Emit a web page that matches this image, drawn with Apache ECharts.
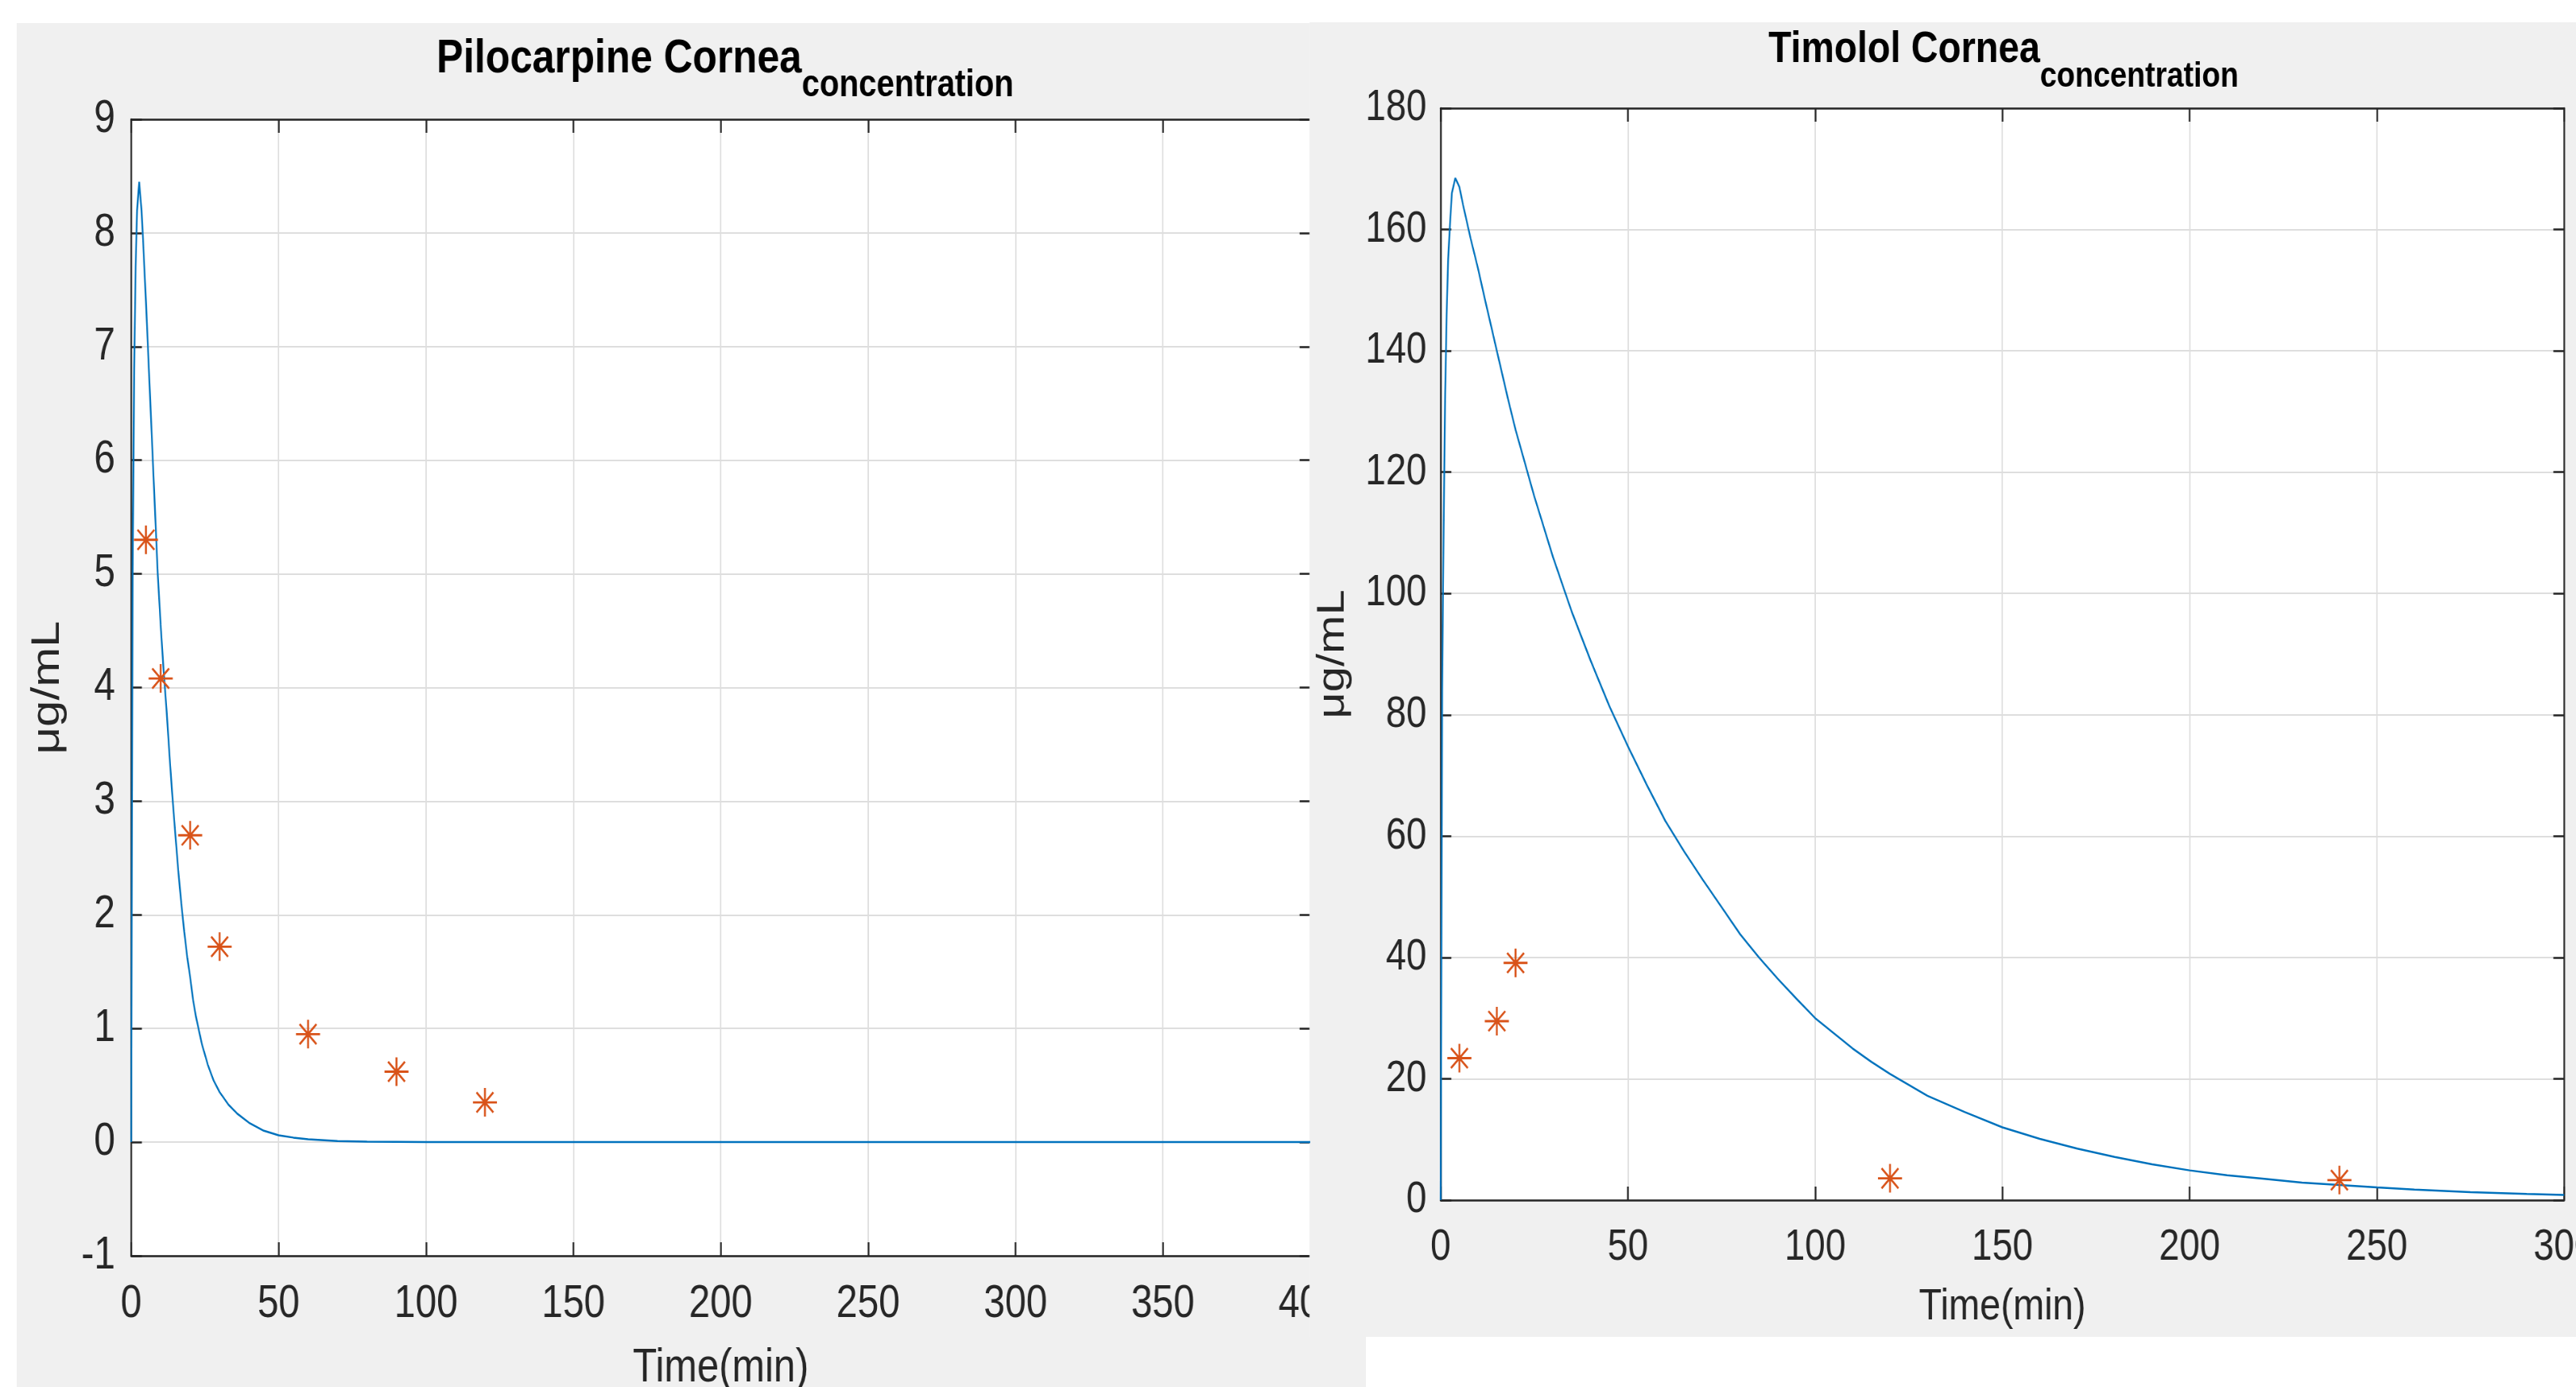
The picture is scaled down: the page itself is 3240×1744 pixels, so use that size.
<!DOCTYPE html>
<html>
<head>
<meta charset="utf-8">
<title>Cornea concentration</title>
<script src="https://cdn.jsdelivr.net/npm/echarts@6/dist/echarts.min.js"></script>
<style>
    html, body { margin: 0; padding: 0; background: #fff; overflow: hidden; }
    /* figure background of the left screenshot */
    #panelLeft { position: absolute; left: 21px; top: 29px; width: 1697px; height: 1715px; background: #f0f0f0; }
    /* the screenshot is squeezed horizontally, so draw wide and squeeze */
    #chart { position: absolute; left: 0; top: 0; width: 3858px; height: 1744px; transform: scaleX(0.84); transform-origin: 0 0; }
</style>
</head>
<body>
<div id="panelLeft"></div>
<div id="chart"></div>
<script>
// prettier-ignore
const SQ = 0.84;
const fx = v => v / SQ; // screenshot x -> chart x

const INK = '#262626', GRIDC = '#dedede', BLUE = '#0072BD', ORANGE = '#D95319';
const FONT = 'Liberation Sans, Arial, Helvetica, sans-serif';
const STAR = 'path://M50,0V100M0,50H100M15,15L85,85M15,85L85,15';

// Pilocarpine cornea (model curve + measured points)
let piloTime = [0, 0.5, 1, 1.5, 2, 2.7, 3.5, 4, 5, 6, 7, 8, 9, 10, 11, 12, 13, 14, 15, 16, 17, 18, 19, 20,
    21, 22, 24, 26, 28, 30, 33, 36, 40, 45, 50, 55, 60, 70, 80, 100, 150, 200, 250, 300, 350, 400];
let piloConc = [0, 5.0, 6.8, 7.7, 8.2, 8.45, 8.2, 7.95, 7.4, 6.8, 6.2, 5.6, 5.0, 4.55, 4.15, 3.8, 3.4, 3.03, 2.7, 2.38, 2.1, 1.85, 1.63, 1.45,
    1.25, 1.1, 0.86, 0.68, 0.54, 0.44, 0.33, 0.25, 0.17, 0.1, 0.06, 0.04, 0.025, 0.01, 0.005, 0, 0, 0, 0, 0, 0, 0];
let piloObsTime = [5, 10, 20, 30, 60, 90, 120];
let piloObsConc = [5.3, 4.08, 2.7, 1.72, 0.95, 0.62, 0.35];
let piloXRange = [0, 400, 50];   // min, max, step
let piloYRange = [-1, 9, 1];

// Timolol cornea
let timoTime = [0, 0.4, 0.8, 1.2, 1.6, 2, 2.5, 3, 3.9, 5, 6, 8, 10, 12, 15, 18, 20, 25, 30, 35, 40, 45, 50,
    55, 60, 65, 70, 75, 80, 85, 90, 95, 100, 105, 110, 115, 120, 125, 130, 140, 150, 160, 170, 180, 190,
    200, 210, 220, 230, 240, 250, 260, 275, 290, 300];
let timoConc = [0, 84, 111, 133, 146, 155, 161, 166, 168.5, 167, 164, 158.5, 153.5, 148, 140, 132, 127, 116, 106, 97, 89, 81.5, 74.8,
    68.5, 62.5, 57.5, 52.8, 48.3, 43.8, 40, 36.5, 33.2, 30, 27.5, 25, 22.8, 20.8, 19, 17.2, 14.5, 12, 10.1, 8.5, 7.1, 5.9,
    4.9, 4.1, 3.5, 2.9, 2.5, 2.1, 1.75, 1.3, 1.0, 0.85];
let timoObsTime = [5, 15, 20, 120, 240];
let timoObsConc = [23.4, 29.5, 39.1, 3.6, 3.3];
let timoXRange = [0, 300, 50];
let timoYRange = [0, 180, 20];

const pairs = (xs, ys) => xs.map((x, i) => [x, ys[i]]);

function mainAxis(gridIndex, position, range, z, fontSize, margin, tickLen, name, nameSize, nameGap) {
    return {
        type: 'value', gridIndex, position, z,
        min: range[0], max: range[1], interval: range[2],
        axisLine: { show: true, onZero: false, lineStyle: { color: INK, width: 2.5 } },
        axisTick: { show: true, inside: true, length: tickLen, lineStyle: { color: INK, width: 2.5 } },
        axisLabel: { show: true, color: INK, fontSize, margin, fontFamily: FONT, showMinLabel: true, showMaxLabel: true },
        splitLine: { show: true, lineStyle: { color: GRIDC, width: 2 } },
        name, nameLocation: 'middle', nameGap, nameMoveOverlap: false,
        nameTextStyle: { color: INK, fontSize: nameSize, fontFamily: FONT }
    };
}
// top / right edge of the box, ticks only
function mirrorAxis(gridIndex, position, range, z, tickLen) {
    return {
        type: 'value', gridIndex, position, z,
        min: range[0], max: range[1], interval: range[2],
        axisLine: { show: true, onZero: false, lineStyle: { color: INK, width: 2.5 } },
        axisTick: { show: true, inside: true, length: tickLen, lineStyle: { color: INK, width: 2.5 } },
        axisLabel: { show: false },
        splitLine: { show: false }
    };
}
function titleOf(text, sub, cx, top, big, small, drop) {
    return {
        text: `{m|${text}}{s|${sub}}`, left: fx(cx), top, textAlign: 'center', padding: 0, z: 6,
        textStyle: {
            rich: {
                m: { fontSize: big, lineHeight: big, fontWeight: 'bold', color: '#000', fontFamily: FONT, verticalAlign: 'top' },
                s: { fontSize: small, lineHeight: small, fontWeight: 'bold', color: '#000', fontFamily: FONT, verticalAlign: 'top', padding: [drop, 0, 0, 0] }
            }
        }
    };
}

let option = {
    animation: false,
    backgroundColor: 'transparent',
    title: [
        titleOf('Pilocarpine Cornea', 'concentration', 912, 44, 60, 48, 40),
        titleOf('Timolol Cornea', 'concentration', 2520, 35, 56, 45, 39)
    ],
    // right screenshot covers the cut edge of the left one
    graphic: [{
        type: 'rect', z: 2, silent: true,
        shape: { x: fx(1647), y: 28, width: fx(3240 - 1647), height: 1653 },
        style: { fill: '#f0f0f0' }
    }],
    grid: [
        { left: fx(165), top: 150, width: fx(1483), height: 1429, show: true, backgroundColor: '#fff', borderWidth: 0, z: 0, outerBoundsMode: 'none' },
        { left: fx(1812), top: 136, width: fx(1413), height: 1373, show: true, backgroundColor: '#fff', borderWidth: 0, z: 3, outerBoundsMode: 'none' }
    ],
    xAxis: [
        mainAxis(0, 'bottom', piloXRange, 1, 57, 33, 17, 'Time(min)', 59, 112),
        mirrorAxis(0, 'top', piloXRange, 1, 17),
        mainAxis(1, 'bottom', timoXRange, 4, 55, 32, 17, 'Time(min)', 56, 107),
        mirrorAxis(1, 'top', timoXRange, 4, 17)
    ],
    yAxis: [
        mainAxis(0, 'left', piloYRange, 1, 57, 24, 16, 'μg/mL', 60, 95),
        mirrorAxis(0, 'right', piloYRange, 1, 16),
        mainAxis(1, 'left', timoYRange, 4, 55, 21, 16, 'μg/mL', 58, 132),
        mirrorAxis(1, 'right', timoYRange, 4, 16)
    ],
    series: [
        {
            name: 'pilocarpine model', type: 'line', xAxisIndex: 0, yAxisIndex: 0, z: 5,
            data: pairs(piloTime, piloConc), showSymbol: false, symbol: 'none',
            lineStyle: { color: BLUE, width: 2.5 }
        },
        {
            name: 'pilocarpine data', type: 'scatter', xAxisIndex: 0, yAxisIndex: 0, z: 6,
            data: pairs(piloObsTime, piloObsConc), symbol: STAR, symbolSize: 36,
            itemStyle: { color: 'rgba(0,0,0,0)', borderColor: ORANGE, borderWidth: 2.8, opacity: 1 }
        },
        {
            name: 'timolol model', type: 'line', xAxisIndex: 2, yAxisIndex: 2, z: 5,
            data: pairs(timoTime, timoConc), showSymbol: false, symbol: 'none',
            lineStyle: { color: BLUE, width: 2.5 }
        },
        {
            name: 'timolol data', type: 'scatter', xAxisIndex: 2, yAxisIndex: 2, z: 6,
            data: pairs(timoObsTime, timoObsConc), symbol: STAR, symbolSize: 36,
            itemStyle: { color: 'rgba(0,0,0,0)', borderColor: ORANGE, borderWidth: 2.8, opacity: 1 }
        }
    ]
};

let myChart = echarts.init(document.getElementById('chart'));
myChart.setOption(option);
</script>
</body>
</html>
